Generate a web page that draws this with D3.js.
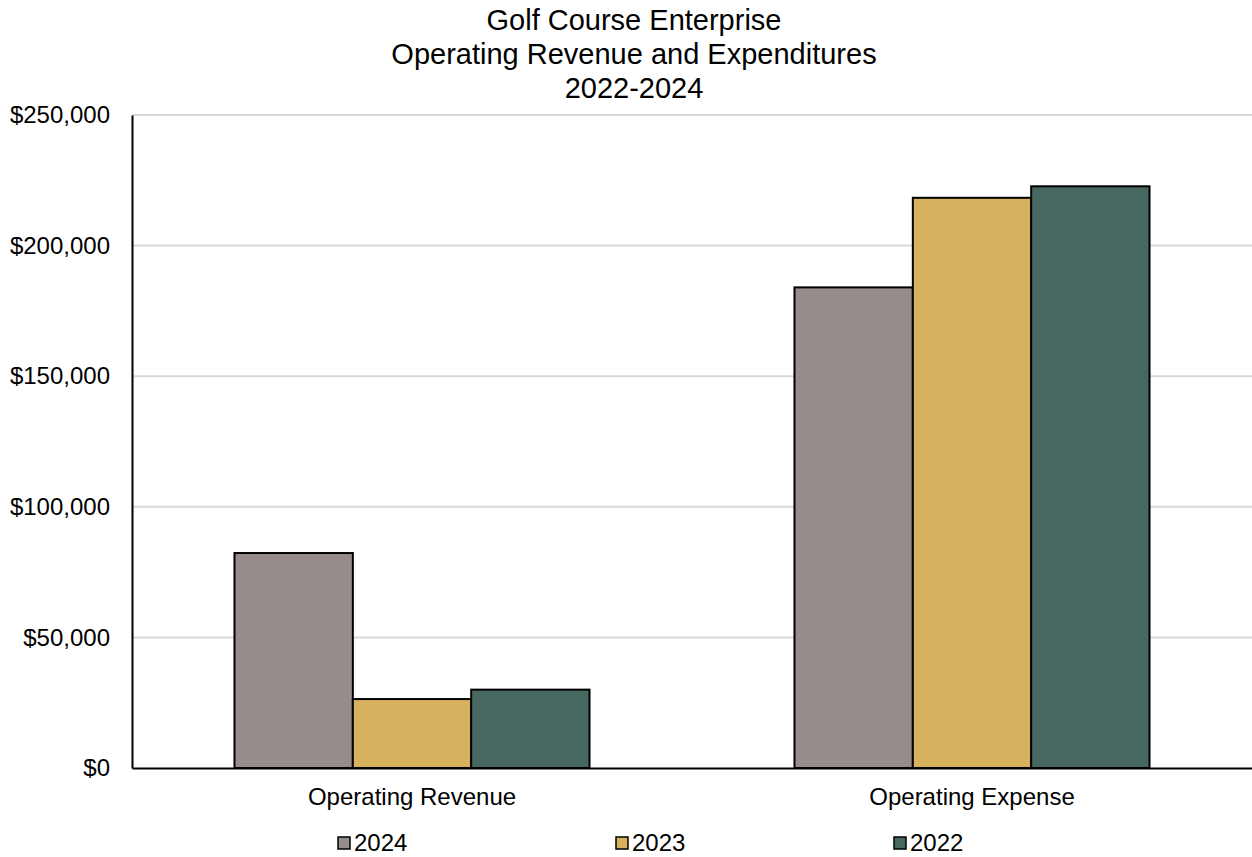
<!DOCTYPE html>
<html>
<head>
<meta charset="utf-8">
<script src="https://d3js.org/d3.v7.min.js"></script>
<style>
  body { margin: 0; background: #fff; }
  text { font-family: "Liberation Sans", Arial, sans-serif; fill: #000; }
</style>
</head>
<body>
<svg width="1252" height="857"></svg>
<script>
// data
var categories = ["Operating Revenue", "Operating Expense"];
var years = ["2024", "2023", "2022"];
var values2024 = [82300, 184000];
var values2023 = [26400, 218300];
var values2022 = [30000, 222700];
var yTicks = [0, 50000, 100000, 150000, 200000, 250000];
var titleLines = ["Golf Course Enterprise", "Operating Revenue and Expenditures", "2022-2024"];

var colors = { "2024": "#968c8a", "2023": "#d6b15e", "2022": "#476860" };
var series = { "2024": values2024, "2023": values2023, "2022": values2022 };

var svg = d3.select("svg");
var plotLeft = 132, plotRight = 1252, plotTop = 115, plotBottom = 768;

var x0 = d3.scaleBand().domain(categories).range([plotLeft, plotRight])
  .paddingInner(0.366).paddingOuter(0.183);
var x1 = d3.scaleBand().domain(years).range([0, x0.bandwidth()]);
var y = d3.scaleLinear().domain([0, 250000]).range([plotBottom, plotTop]);

// title
svg.append("g").selectAll("text")
  .data(titleLines)
  .enter().append("text")
  .attr("x", 634)
  .attr("y", function(d, i) { return 20 + i * 34; })
  .attr("dy", "0.35em")
  .attr("text-anchor", "middle")
  .style("font-size", "29px")
  .text(function(d) { return d; });

// gridlines
svg.append("g").selectAll("line")
  .data(yTicks.filter(function(d) { return d > 0; }))
  .enter().append("line")
  .attr("x1", plotLeft).attr("x2", plotRight)
  .attr("y1", function(d) { return y(d); })
  .attr("y2", function(d) { return y(d); })
  .attr("stroke", "#d9d9d9")
  .attr("stroke-width", 2);

// y axis
var yAxis = d3.axisLeft(y).tickValues(yTicks).tickSize(0).tickPadding(22)
  .tickFormat(function(d) { return "$" + d3.format(",")(d); });
var gy = svg.append("g").attr("transform", "translate(" + plotLeft + ",0)").call(yAxis);
gy.select(".domain").attr("stroke", "#000").attr("stroke-width", 2);
gy.selectAll("text").style("font-size", "24px").style("font-family", "Liberation Sans, Arial, sans-serif");

// bars
var groups = svg.append("g").selectAll("g")
  .data(categories)
  .enter().append("g")
  .attr("transform", function(d) { return "translate(" + x0(d) + ",0)"; });

groups.selectAll("rect")
  .data(function(d, i) { return years.map(function(yr) { return { year: yr, value: series[yr][i] }; }); })
  .enter().append("rect")
  .attr("x", function(d) { return x1(d.year); })
  .attr("width", x1.bandwidth())
  .attr("y", function(d) { return y(d.value); })
  .attr("height", function(d) { return plotBottom - y(d.value); })
  .attr("fill", function(d) { return colors[d.year]; })
  .attr("stroke", "#000")
  .attr("stroke-width", 2);

// x axis
var xAxis = d3.axisBottom(x0).tickSize(0).tickPadding(20);
var gx = svg.append("g").attr("transform", "translate(0," + plotBottom + ")").call(xAxis);
gx.select(".domain").attr("stroke", "#000").attr("stroke-width", 2);
gx.selectAll("text").style("font-size", "24px").style("font-family", "Liberation Sans, Arial, sans-serif");

// legend
var legend = svg.append("g").selectAll("g")
  .data(years)
  .enter().append("g")
  .attr("transform", function(d, i) { return "translate(" + (338 + i * 278) + ",843)"; });

legend.append("rect")
  .attr("x", 0).attr("y", -6)
  .attr("width", 12).attr("height", 12)
  .attr("fill", function(d) { return colors[d]; })
  .attr("stroke", "#000")
  .attr("stroke-width", 1.5);

legend.append("text")
  .attr("x", 16)
  .attr("dy", "0.35em")
  .style("font-size", "24px")
  .text(function(d) { return d; });
</script>
</body>
</html>
